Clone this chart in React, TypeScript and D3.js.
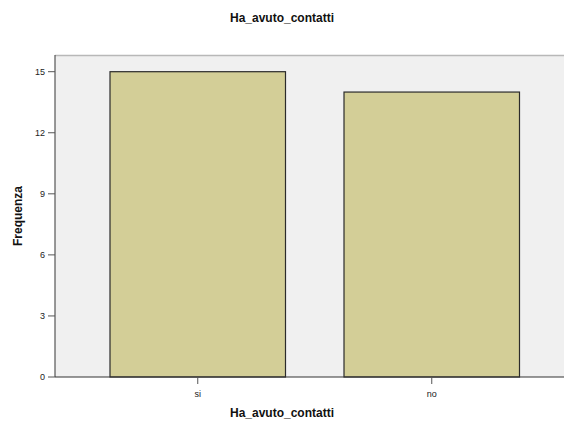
import React from 'react';
import * as d3 from 'd3';

const categories = ['si', 'no'];
const frequencies = [15, 14];
const yTicks = [0, 3, 6, 9, 12, 15];

const W = 564;
const H = 425;
const plot = { left: 55, top: 55, right: 564, bottom: 377 };

const App: React.FC = () => {
  const y = d3.scaleLinear().domain([0, 15]).range([377, 71.7]);
  const x = d3.scaleBand<string>()
    .domain(categories)
    .range([80.75, 548.75])
    .paddingInner(0.25)
    .paddingOuter(0.125);

  const font = 'Arial, "Liberation Sans", sans-serif';

  return (
    <svg width={W} height={H} style={{ position: 'absolute', left: 0, top: 0, background: '#fff' }}>
      {/* plot background */}
      <rect x={plot.left} y={plot.top} width={plot.right - plot.left} height={plot.bottom - plot.top} fill="#f0f0f0" />
      <line x1={plot.left} x2={plot.right} y1={plot.top + 0.5} y2={plot.top + 0.5} stroke="#b8b8b8" strokeWidth={1.5} />

      {/* bars */}
      {categories.map((c, i) => (
        <rect
          key={c}
          x={x(c)!}
          y={y(frequencies[i])}
          width={x.bandwidth()}
          height={y(0) - y(frequencies[i])}
          fill="#d3ce97"
          stroke="#2b2b2b"
          strokeWidth={1.2}
        />
      ))}

      {/* y axis */}
      <line x1={plot.left} x2={plot.left} y1={plot.top} y2={plot.bottom} stroke="#555" strokeWidth={1.2} />
      {yTicks.map(t => (
        <g key={t}>
          <line x1={plot.left - 7} x2={plot.left} y1={y(t)} y2={y(t)} stroke="#555" strokeWidth={1} />
          <text x={plot.left - 10} y={y(t)} dy="0.35em" textAnchor="end" fontSize={9} fontFamily={font} fill="#222">{t}</text>
        </g>
      ))}

      {/* x axis */}
      <line x1={plot.left} x2={plot.right} y1={plot.bottom} y2={plot.bottom} stroke="#333" strokeWidth={1.2} />
      {categories.map(c => {
        const cx = x(c)! + x.bandwidth() / 2;
        return (
          <g key={c}>
            <line x1={cx} x2={cx} y1={plot.bottom} y2={plot.bottom + 7} stroke="#555" strokeWidth={1} />
            <text x={cx} y={397} textAnchor="middle" fontSize={9} fontFamily={font} fill="#222">{c}</text>
          </g>
        );
      })}

      {/* titles */}
      <text x={282} y={22} textAnchor="middle" fontSize={12} fontWeight="bold" fontFamily={font} fill="#111">Ha_avuto_contatti</text>
      <text x={282} y={417} textAnchor="middle" fontSize={12} fontWeight="bold" fontFamily={font} fill="#111">Ha_avuto_contatti</text>
      <text transform="translate(22,216) rotate(-90)" textAnchor="middle" fontSize={12} fontWeight="bold" fontFamily={font} fill="#111">Frequenza</text>
    </svg>
  );
};

export default App;
